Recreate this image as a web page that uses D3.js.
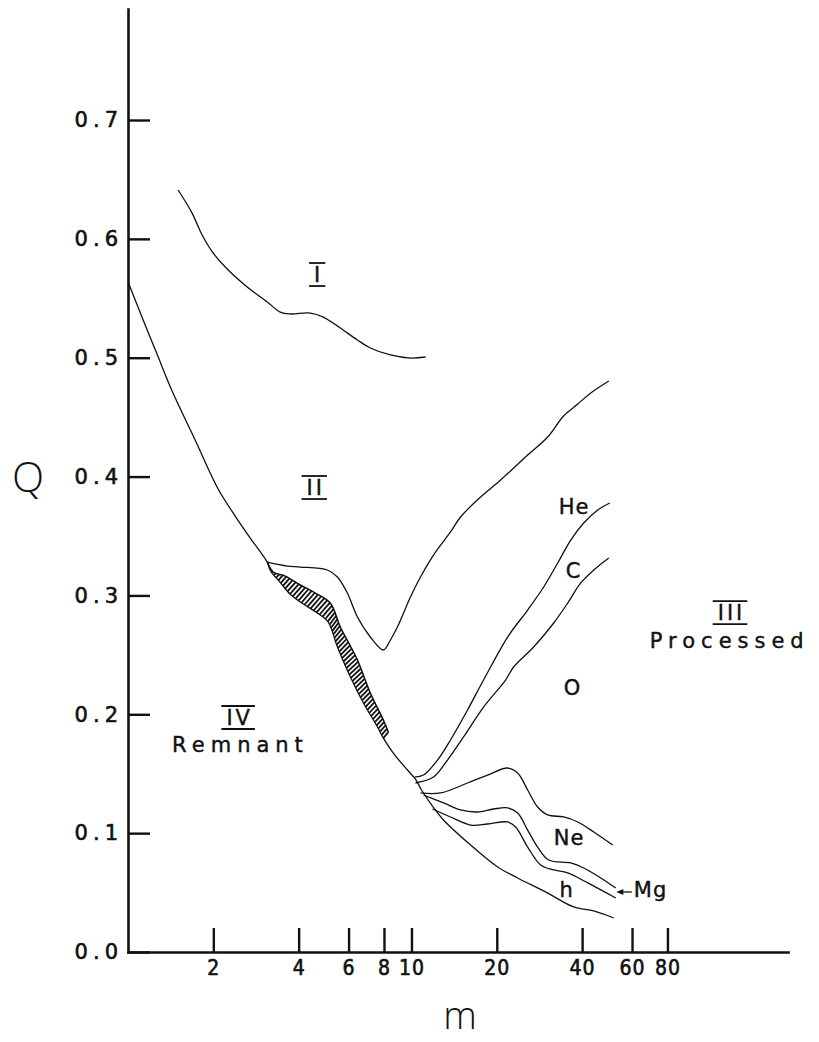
<!DOCTYPE html>
<html><head><meta charset="utf-8">
<script src="https://cdn.jsdelivr.net/npm/d3@7"></script>
<style>
body{margin:0;background:#fff;}
svg{display:block;background:#fff;}
</style></head><body>
<svg id="chart" width="819" height="1042"></svg>
<script>
// ---- data (m, Q) ----
const xTicks = [2, 4, 6, 8, 10, 20, 40, 60, 80];
const yTicks = [0, 0.1, 0.2, 0.3, 0.4, 0.5, 0.6, 0.7];

const curveI = [[1.502,0.6411],[1.683,0.6217],[1.826,0.6032],[1.997,0.5881],[2.257,0.5738],[2.634,0.5595],[3.10,0.5469],[3.444,0.5384],[3.736,0.5368],[4.397,0.5376],[4.887,0.5342],[5.61,0.525],[6.45,0.5149],[7.16,0.5082],[8.43,0.5023],[9.92,0.4997],[11.21,0.5006]];

const mainCurve = [[1.00,0.564],[1.13,0.532],[1.266,0.5031],[1.431,0.472],[1.725,0.4308],[2.08,0.3895],[2.388,0.3668],[2.699,0.3483],[3.10,0.328],[3.177,0.321],[3.44,0.311],[3.736,0.301],[4.053,0.2945],[4.77,0.2835],[5.09,0.2776],[5.48,0.2566],[6.09,0.2314],[6.77,0.2095],[7.59,0.1893],[7.96,0.180],[8.63,0.1674],[9.68,0.1531],[10.33,0.1455],[10.85,0.1363],[11.86,0.1228],[12.97,0.1111],[16.17,0.090],[20.13,0.0715],[23.7,0.0623],[30.24,0.0496],[37.37,0.0379],[43.96,0.0345],[51.7,0.0286]];

const bandLower = [[3.10,0.328],[3.177,0.321],[3.44,0.311],[3.736,0.301],[4.053,0.2945],[4.77,0.2835],[5.09,0.2776],[5.48,0.2566],[6.09,0.2314],[6.77,0.2095],[7.59,0.1893],[7.96,0.180]];
const bandUpper = [[3.10,0.328],[3.254,0.3197],[3.588,0.3163],[4.053,0.3088],[4.58,0.302],[5.17,0.2936],[5.61,0.2734],[6.09,0.2574],[6.45,0.2457],[7.16,0.2179],[7.96,0.1952],[8.29,0.1851]];

const upperCurve = [[3.10,0.328],[3.646,0.3247],[4.053,0.3239],[5.05,0.3214],[5.48,0.3155],[5.94,0.302],[6.45,0.2818],[7.16,0.265],[7.96,0.2541],[8.43,0.2625],[8.92,0.2734],[9.92,0.2987],[10.76,0.3155],[11.96,0.334],[13.73,0.3534],[14.90,0.366],[17.53,0.3828],[20.63,0.3971],[25.7,0.4181],[30.24,0.4333],[34.4,0.451],[38.6,0.461],[42.9,0.4703],[49.7,0.4804]];

const heCurve = [[10.25,0.1472],[11.03,0.1489],[12.36,0.1615],[13.73,0.1784],[15.77,0.2036],[17.96,0.2288],[21.84,0.265],[25.70,0.2877],[29.27,0.3071],[32.81,0.3273],[36.47,0.3466],[40.53,0.3609],[45.42,0.3719],[50.08,0.3778]];

const cCurve = [[10.33,0.1422],[11.96,0.1472],[13.40,0.1615],[15.27,0.1809],[17.96,0.2061],[21.48,0.2288],[22.93,0.2398],[26.98,0.2566],[31.76,0.2768],[35.58,0.2936],[39.56,0.3105],[43.97,0.3214],[49.67,0.3315]];

const neCurve = [[10.76,0.1338],[12.66,0.1338],[15.77,0.1422],[18.56,0.1489],[21.84,0.1548],[23.70,0.1506],[25.70,0.1363],[27.87,0.122],[30.24,0.1153],[34.44,0.1136],[38.61,0.1094],[43.97,0.101],[51.3,0.090]];

const mgUpper = [[11.03,0.1321],[12.98,0.1254],[14.90,0.1195],[17.11,0.1178],[19.49,0.1203],[21.84,0.1212],[23.70,0.1169],[25.70,0.1026],[27.87,0.0883],[30.49,0.0774],[36.47,0.0749],[40.53,0.0707],[46.53,0.0623],[52.57,0.0538]];

const mgLower = [[11.87,0.1203],[13.73,0.1136],[16.17,0.1068],[18.56,0.1077],[21.84,0.1094],[23.31,0.1052],[25.70,0.0883],[28.57,0.0732],[31.76,0.069],[35.58,0.0665],[41.87,0.0581],[52.57,0.0454]];

// region / element labels: [text, m, Q, anchor]
const romanLabels = [["I",4.65,0.5637],["II",4.54,0.3845],["III",133,0.2793],["IV",2.447,0.191]];
const wordLabels = [["Processed",69.3,0.2558],["Remnant",1.431,0.1683]];
const elementLabels = [["He",33.1,0.3685,"start"],["C",37.35,0.3147,"middle"],["O",37.0,0.2162,"middle"],["Ne",31.76,0.090,"start"],["h",35.3,0.0463,"middle"],["Mg",60.9,0.0463,"start"]];
const mgArrow = [[59.9,0.0505],[52.8,0.0505]];

// ---- drawing ----
const svg = d3.select("#chart");
const ink = "#111";
const x = d3.scaleLog().domain([1, 213]).range([128, 788]);
const y = d3.scaleLinear().domain([0, 0.7934]).range([952, 9]);
const line = d3.line().x(d => x(d[0])).y(d => y(d[1])).curve(d3.curveCatmullRom.alpha(0.5));

function embolden(sel, w) { sel.style("stroke", ink).style("stroke-width", w + "px").style("stroke-linejoin", "round"); }

// axes
const yAxis = d3.axisLeft(y).tickValues(yTicks).tickFormat(d3.format(".1f"))
  .tickSize(-22).tickSizeOuter(0).tickPadding(5);
const gy = svg.append("g").attr("transform", `translate(${x(1)},0)`).call(yAxis);
const xAxis = d3.axisBottom(x).tickValues(xTicks).tickFormat(d3.format("d"))
  .tickSize(-24).tickSizeOuter(0).tickPadding(8);
const gx = svg.append("g").attr("transform", `translate(0,${y(0)})`).call(xAxis);

[gx, gy].forEach(g => {
  g.attr("font-family", null).attr("font-size", null);
  g.select(".domain").attr("stroke", ink).attr("stroke-width", 2.6).attr("stroke-linecap", "square");
  g.selectAll(".tick line").attr("stroke", ink).attr("stroke-width", 2.4);
});
gy.selectAll(".tick text").attr("fill", ink)
  .style("font-family", "'DejaVu Sans', sans-serif").style("font-size", "21px").style("letter-spacing", "5px")
  .call(embolden, 0.6);
gx.selectAll(".tick text").attr("fill", ink)
  .style("font-family", "'DejaVu Sans Condensed', 'Liberation Sans Narrow', 'DejaVu Sans', sans-serif")
  .style("font-stretch", "condensed").style("font-size", "21px").style("letter-spacing", "1px")
  .call(embolden, 0.6);

// axis titles
svg.append("text").attr("x", 28).attr("y", y(0.4) + 15).attr("text-anchor", "middle")
  .style("font-family", "'Open Sans', sans-serif").style("font-weight", 300).style("font-size", "42px")
  .attr("fill", ink).text("Q");
svg.append("text").attr("x", 460).attr("y", 1029).attr("text-anchor", "middle")
  .style("font-family", "'Open Sans', sans-serif").style("font-weight", 300).style("font-size", "38px")
  .attr("fill", ink).text("m");

// hatched band
const gBand = svg.append("g");
const upPath = gBand.append("path").attr("d", line(bandUpper)).attr("fill", "none").attr("stroke", ink).attr("stroke-width", 1.5);
const loPath = gBand.append("path").attr("d", line(bandLower)).attr("fill", "none").attr("stroke", "none");
const Lu = upPath.node().getTotalLength(), Ll = loPath.node().getTotalLength();
const N = 60;
const hatch = d3.range(1, N + 1).map(i => {
  const a = upPath.node().getPointAtLength(Lu * i / N);
  const b = loPath.node().getPointAtLength(Ll * i / N);
  return [a, b];
});
gBand.selectAll("line.h").data(hatch).join("line").attr("class", "h")
  .attr("x1", d => d[0].x).attr("y1", d => d[0].y).attr("x2", d => d[1].x).attr("y2", d => d[1].y)
  .attr("stroke", ink).attr("stroke-width", 1.8);

// curves
const curves = [curveI, mainCurve, upperCurve, heCurve, cCurve, neCurve, mgUpper, mgLower];
svg.append("g").selectAll("path").data(curves).join("path")
  .attr("d", line).attr("fill", "none").attr("stroke", ink).attr("stroke-width", 1.3)
  .attr("stroke-linejoin", "round");

// labels
const labelFont = "'DejaVu Sans', sans-serif";
romanLabels.forEach(([t, m, q]) => {
  const tx = svg.append("text").attr("x", x(m)).attr("y", y(q)).attr("text-anchor", "middle")
    .style("font-family", labelFont).style("font-size", "21px").attr("fill", ink)
    .style("letter-spacing", "3px").attr("dx", "1.5px").text(t).call(embolden, 0.4);
  const bb = tx.node().getBBox();
  const cx = x(m), w = (bb.width - 3) / 2 + 5;
  [y(q) - 19, y(q) + 4].forEach(yy => svg.append("line").attr("x1", cx - w).attr("x2", cx + w)
    .attr("y1", yy).attr("y2", yy).attr("stroke", ink).attr("stroke-width", 1.8));
});
wordLabels.forEach(([t, m, q]) => {
  svg.append("text").attr("x", x(m)).attr("y", y(q))
    .style("font-family", labelFont).style("font-size", "21px").style("letter-spacing", "6px")
    .attr("fill", ink).text(t).call(embolden, 0.4);
});
elementLabels.forEach(([t, m, q, anc]) => {
  svg.append("text").attr("x", x(m)).attr("y", y(q)).attr("text-anchor", anc)
    .style("font-family", labelFont).style("font-size", "21px").style("letter-spacing", "1px")
    .attr("fill", ink).text(t).call(embolden, 0.4);
});
// Mg arrow
const ax1 = x(mgArrow[0][0]), ax2 = x(mgArrow[1][0]), ay = y(mgArrow[0][1]);
svg.append("line").attr("x1", ax1).attr("x2", ax2 + 3).attr("y1", ay).attr("y2", ay).attr("stroke", ink).attr("stroke-width", 1.3);
svg.append("path").attr("d", `M${ax2},${ay}L${ax2 + 7},${ay - 3}L${ax2 + 7},${ay + 3}Z`).attr("fill", ink);
</script>
</body></html>
